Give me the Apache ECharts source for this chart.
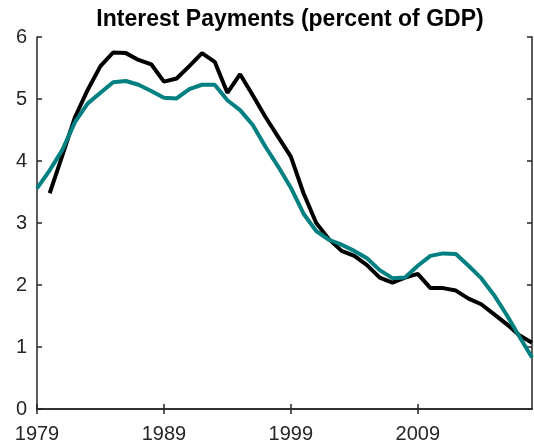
<!DOCTYPE html>
<html>
<head>
<meta charset="utf-8">
<script src="https://cdn.jsdelivr.net/npm/echarts@6/dist/echarts.min.js"></script>
<style>
  html, body { margin: 0; padding: 0; background: #fff; }
  #chart { width: 534px; height: 447px; }
</style>
</head>
<body>
<div id="chart"></div>
<script>
const years = [];
for (let y = 1979; y <= 2018; y++) years.push(String(y));

// black line (starts 1980)
const blackLine = [null, 3.48, 4.09, 4.71, 5.15, 5.53, 5.75, 5.74, 5.63, 5.56,
  5.28, 5.33, 5.53, 5.74, 5.60, 5.10, 5.40, 5.06, 4.71, 4.39,
  4.07, 3.48, 3.00, 2.74, 2.55, 2.47, 2.32, 2.12, 2.04, 2.12,
  2.18, 1.95, 1.95, 1.91, 1.78, 1.69, 1.53, 1.37, 1.19, 1.07];

// teal line
const tealLine = [3.56, 3.85, 4.18, 4.63, 4.93, 5.10, 5.27, 5.29, 5.23, 5.13,
  5.02, 5.01, 5.16, 5.23, 5.23, 4.98, 4.82, 4.58, 4.23, 3.91,
  3.57, 3.15, 2.87, 2.73, 2.65, 2.55, 2.43, 2.24, 2.11, 2.12,
  2.31, 2.47, 2.51, 2.50, 2.31, 2.11, 1.84, 1.52, 1.17, 0.83];

const axisColor = "#262626";
const fontFamily = "Liberation Sans, Arial, sans-serif";

const chart = echarts.init(document.getElementById("chart"));
chart.setOption({
  animation: false,
  backgroundColor: "#fff",
  title: {
    text: "Interest Payments (percent of GDP)",
    left: 285,
    top: 3,
    textAlign: "center",
    textStyle: { fontFamily, fontSize: 23, fontWeight: "bold", color: "#000" },
  },
  grid: { left: 37, right: 2, top: 37, bottom: 38 },
  xAxis: [
    {
      type: "category",
      data: years,
      boundaryGap: false,
      axisLine: { lineStyle: { color: axisColor, width: 1.5 } },
      axisTick: { inside: true, length: 5, interval: 9, lineStyle: { color: axisColor, width: 1.5 } },
      axisLabel: { interval: 9, color: axisColor, fontFamily, fontSize: 20, margin: 15 },
      splitLine: { show: false },
    },
    {
      type: "category",
      data: years,
      boundaryGap: false,
      position: "top",
      axisLine: { lineStyle: { color: axisColor, width: 1.5 } },
      axisTick: { inside: true, length: 5, interval: 9, lineStyle: { color: axisColor, width: 1.5 } },
      axisLabel: { show: false },
      splitLine: { show: false },
    },
  ],
  yAxis: [
    {
      type: "value",
      min: 0,
      max: 6,
      interval: 1,
      axisLine: { show: true, lineStyle: { color: axisColor, width: 1.5 } },
      axisTick: { show: true, inside: true, length: 5, lineStyle: { color: axisColor, width: 1.5 } },
      axisLabel: { color: axisColor, fontFamily, fontSize: 20, margin: 10 },
      splitLine: { show: false },
    },
    {
      type: "value",
      min: 0,
      max: 6,
      interval: 1,
      position: "right",
      axisLine: { show: true, lineStyle: { color: axisColor, width: 1.5 } },
      axisTick: { show: true, inside: true, length: 5, lineStyle: { color: axisColor, width: 1.5 } },
      axisLabel: { show: false },
      splitLine: { show: false },
    },
  ],
  series: [
    {
      type: "line",
      data: blackLine,
      showSymbol: false,
      lineStyle: { color: "#000", width: 4 },
      z: 2,
    },
    {
      type: "line",
      data: tealLine,
      showSymbol: false,
      lineStyle: { color: "#008080", width: 4 },
      z: 3,
    },
  ],
});
</script>
</body>
</html>
